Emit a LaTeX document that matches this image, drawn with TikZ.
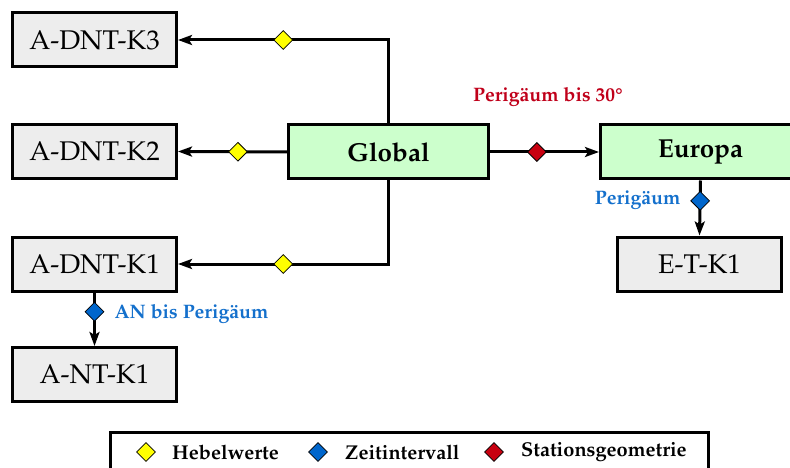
\documentclass[tikz,border=0pt]{standalone}
\usepackage[T1]{fontenc}
\usepackage{textcomp}
\usepackage{mathpazo}
\usetikzlibrary{shapes.geometric,arrows.meta}
\definecolor{boxgray}{RGB}{237,237,237}
\definecolor{boxgreen}{RGB}{204,255,204}
\definecolor{dyellow}{RGB}{255,255,0}
\definecolor{dblue}{RGB}{0,102,204}
\definecolor{dred}{RGB}{200,0,16}
\definecolor{lblue}{RGB}{20,112,204}
\definecolor{lred}{RGB}{192,0,26}
\tikzset{
  graybox/.style={draw=black, line width=3pt, fill=boxgray, minimum width=164pt, minimum height=54pt, inner sep=0pt, font=\fontsize{27}{30}\selectfont},
  greenbox/.style={draw=black, line width=3pt, fill=boxgreen, minimum width=200pt, minimum height=54pt, inner sep=0pt, font=\fontsize{26}{29}\selectfont\bfseries},
  conn/.style={line width=3pt, -{Stealth[length=14pt,width=10pt,inset=3pt]}},
  dia/.style={diamond, draw=black, line width=0.8pt, minimum size=19pt, inner sep=0pt},
  lbl/.style={font=\fontsize{19.5}{22}\selectfont\bfseries},
  legtxt/.style={font=\fontsize{20}{22}\selectfont\bfseries, anchor=west, inner sep=0pt}
}
\begin{document}
\begin{tikzpicture}[x=1pt,y=-1pt]
\useasboundingbox (0,0) rectangle (790,468);
\clip (0,0) rectangle (790,468);
\node[graybox] (k3) at (94.5,40) {A-DNT-K3};
\node[graybox] (k2) at (94.5,151.5) {A-DNT-K2};
\node[graybox] (k1) at (94.5,264) {A-DNT-K1};
\node[graybox] (nt) at (94.5,374.5) {A-NT-K1};
\node[greenbox] (gl) at (388.5,152) {Global};
\node[greenbox] (eu) at (700.5,152) {Europa};
\node[graybox] (et) at (699.5,264) {E-T-K1};

\draw[conn] (gl.north) |- (k3.east) node[dia, fill=dyellow, pos=0.75] (d1) {};
\draw[conn] (gl.west) -- (k2.east) node[dia, fill=dyellow, pos=0.45] (d2) {};
\draw[conn] (gl.south) |- (k1.east) node[dia, fill=dyellow, pos=0.75] (d3) {};
\draw[conn] (k1.south) -- (nt.north) node[dia, fill=dblue, pos=0.36] (d4) {};
\draw[conn] (gl.east) -- (eu.west) node[dia, fill=dred, pos=0.43] (d5) {};
\draw[conn] (eu.south) -- (et.north) node[dia, fill=dblue, pos=0.37] (d6) {};

\node[lbl, text=lred] (l5) at (548,97) {Perigäum bis 30\textdegree};
\node[lbl, text=lblue, anchor=east] (l6) at (684,200) {Perigäum};
\node[lbl, text=lblue, anchor=west] (l4) at (111,314) {AN bis Perigäum};

\draw[line width=3pt, fill=white] (110,432) rectangle (708,490);
\node[dia, fill=dyellow] (ly) at (146,452) {};
\node[legtxt] (ty) at (172,452) {Hebelwerte};
\node[dia, fill=dblue] (lb) at (318,452) {};
\node[legtxt] (tb) at (345,452) {Zeitintervall};
\node[dia, fill=dred] (lr) at (494,452) {};
\node[legtxt] (tr) at (521,452) {Stationsgeometrie};
\end{tikzpicture}
\end{document}
